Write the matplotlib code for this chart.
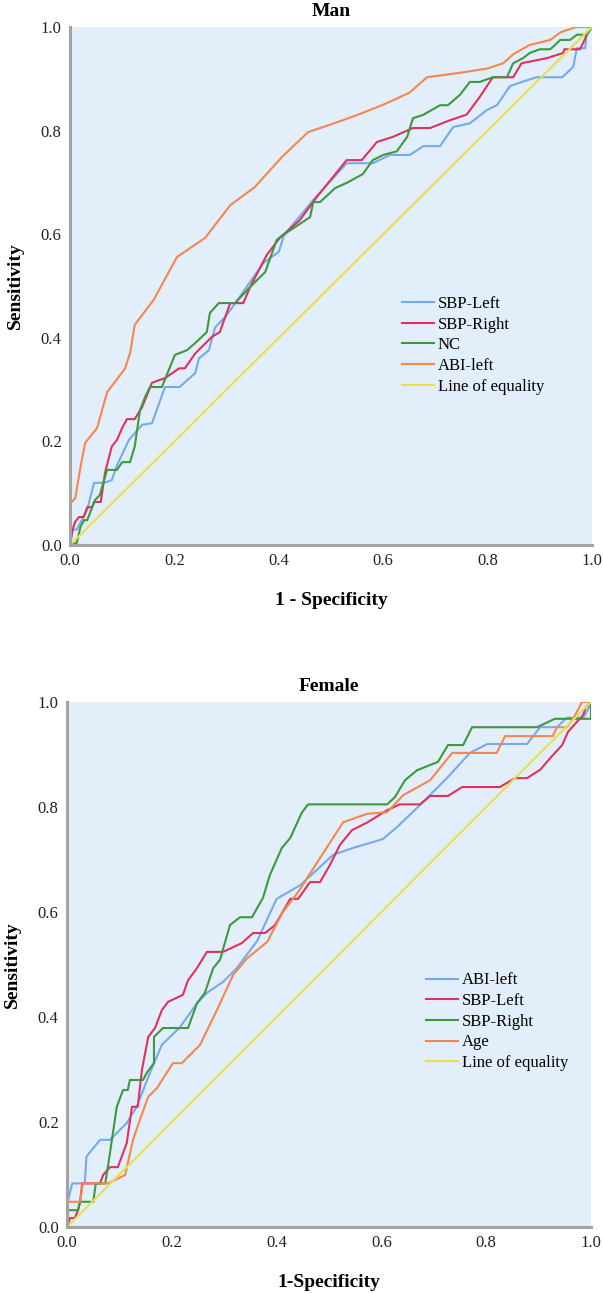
import matplotlib
matplotlib.use("Agg")
import matplotlib.pyplot as plt

# ---------------- Data: Man ----------------
man_abi_x = [0, 0, 0.01, 0.02, 0.029, 0.052, 0.071, 0.105, 0.115, 0.124, 0.16, 0.205, 0.259, 0.307,
             0.354, 0.406, 0.456, 0.5, 0.55, 0.6, 0.65, 0.684, 0.75, 0.8, 0.83, 0.85, 0.88, 0.92, 0.94, 0.97, 1.0]
man_abi_y = [0, 0.08, 0.09, 0.15, 0.197, 0.226, 0.295, 0.34, 0.37, 0.425, 0.473, 0.556, 0.593, 0.656,
             0.691, 0.749, 0.797, 0.812, 0.83, 0.85, 0.873, 0.903, 0.912, 0.92, 0.93, 0.948, 0.965, 0.975, 0.99, 1.0, 1.0]

man_sbpl_x = [0, 0.005, 0.013, 0.033, 0.046, 0.065, 0.08, 0.09, 0.113, 0.138, 0.157, 0.182, 0.21, 0.24,
              0.247, 0.266, 0.278, 0.297, 0.314, 0.37, 0.4, 0.41, 0.466, 0.53, 0.58, 0.613, 0.651, 0.677,
              0.709, 0.734, 0.766, 0.799, 0.818, 0.843, 0.875, 0.894, 0.943, 0.964, 0.971, 0.987, 0.99, 1.0]
man_sbpl_y = [0, 0.03, 0.03, 0.068, 0.12, 0.12, 0.125, 0.154, 0.203, 0.232, 0.235, 0.305, 0.305, 0.332,
              0.36, 0.376, 0.42, 0.44, 0.463, 0.544, 0.566, 0.598, 0.666, 0.737, 0.737, 0.753, 0.753, 0.77,
              0.77, 0.807, 0.814, 0.84, 0.849, 0.886, 0.897, 0.903, 0.903, 0.923, 0.959, 0.959, 0.99, 1.0]

man_sbpr_x = [0, 0.005, 0.01, 0.017, 0.026, 0.033, 0.042, 0.046, 0.059, 0.067, 0.08, 0.09, 0.1, 0.109,
              0.124, 0.138, 0.157, 0.17, 0.182, 0.209, 0.22, 0.24, 0.272, 0.287, 0.307, 0.332, 0.345,
              0.377, 0.402, 0.44, 0.473, 0.53, 0.559, 0.588, 0.619, 0.657, 0.69, 0.728, 0.76, 0.785, 0.81,
              0.849, 0.865, 0.914, 0.945, 0.947, 0.977, 0.983, 0.99, 1.0]
man_sbpr_y = [0, 0.03, 0.045, 0.054, 0.054, 0.073, 0.073, 0.083, 0.083, 0.139, 0.19, 0.203, 0.226, 0.243,
              0.243, 0.266, 0.313, 0.318, 0.322, 0.341, 0.341, 0.37, 0.402, 0.411, 0.467, 0.467, 0.498,
              0.56, 0.593, 0.627, 0.672, 0.743, 0.743, 0.778, 0.788, 0.805, 0.805, 0.82, 0.831, 0.865, 0.903,
              0.903, 0.93, 0.94, 0.95, 0.957, 0.957, 0.969, 0.985, 1.0]

man_nc_x = [0, 0.013, 0.02, 0.027, 0.033, 0.038, 0.048, 0.057, 0.071, 0.09, 0.1, 0.115, 0.124, 0.134,
            0.144, 0.153, 0.176, 0.201, 0.224, 0.24, 0.262, 0.268, 0.285, 0.316, 0.345, 0.374, 0.396,
            0.406, 0.46, 0.466, 0.479, 0.508, 0.53, 0.561, 0.58, 0.6, 0.626, 0.646, 0.657, 0.676, 0.709,
            0.724, 0.747, 0.766, 0.785, 0.81, 0.837, 0.849, 0.868, 0.881, 0.9, 0.92, 0.929, 0.939, 0.958,
            0.971, 0.99, 1.0]
man_nc_y = [0, 0.004, 0.035, 0.048, 0.048, 0.061, 0.087, 0.096, 0.145, 0.145, 0.16, 0.16, 0.19, 0.26,
            0.286, 0.305, 0.305, 0.367, 0.376, 0.39, 0.411, 0.448, 0.467, 0.467, 0.498, 0.527, 0.589,
            0.597, 0.633, 0.662, 0.662, 0.689, 0.699, 0.716, 0.743, 0.753, 0.76, 0.788, 0.824, 0.83, 0.849,
            0.849, 0.869, 0.894, 0.894, 0.903, 0.903, 0.93, 0.94, 0.95, 0.957, 0.957, 0.965, 0.975, 0.975,
            0.985, 0.985, 1.0]

# ---------------- Data: Female ----------------
fem_abi_x = [0, 0.002, 0.01, 0.034, 0.037, 0.063, 0.082, 0.114, 0.133, 0.158, 0.181, 0.216, 0.248, 0.267,
             0.298, 0.324, 0.363, 0.4, 0.445, 0.508, 0.546, 0.603, 0.63, 0.674, 0.725, 0.769, 0.802, 0.878,
             0.903, 0.935, 0.954, 0.985, 0.994, 1.0]
fem_abi_y = [0, 0.051, 0.083, 0.083, 0.134, 0.166, 0.166, 0.198, 0.229, 0.293, 0.347, 0.381, 0.426, 0.446,
             0.467, 0.493, 0.545, 0.625, 0.651, 0.709, 0.722, 0.739, 0.762, 0.804, 0.855, 0.903, 0.92, 0.92,
             0.952, 0.952, 0.97, 0.97, 0.985, 1.0]

fem_sbpl_x = [0, 0.006, 0.015, 0.021, 0.025, 0.029, 0.063, 0.069, 0.082, 0.097, 0.114, 0.124, 0.135, 0.143,
              0.155, 0.168, 0.181, 0.193, 0.221, 0.231, 0.248, 0.267, 0.298, 0.334, 0.355, 0.378, 0.397,
              0.426, 0.441, 0.464, 0.483, 0.502, 0.521, 0.544, 0.574, 0.611, 0.635, 0.674, 0.693, 0.727,
              0.754, 0.826, 0.855, 0.878, 0.903, 0.922, 0.945, 0.956, 0.973, 0.985, 0.99, 1.0]
fem_sbpl_y = [0, 0.017, 0.017, 0.032, 0.048, 0.083, 0.083, 0.099, 0.114, 0.114, 0.16, 0.229, 0.229, 0.299,
              0.362, 0.379, 0.413, 0.429, 0.442, 0.47, 0.493, 0.524, 0.524, 0.541, 0.56, 0.56, 0.575,
              0.625, 0.625, 0.657, 0.657, 0.69, 0.728, 0.756, 0.771, 0.794, 0.805, 0.805, 0.821, 0.821,
              0.838, 0.838, 0.855, 0.855, 0.871, 0.893, 0.918, 0.943, 0.962, 0.975, 0.99, 1.0]

fem_sbpr_x = [0, 0.002, 0.021, 0.025, 0.05, 0.055, 0.073, 0.082, 0.095, 0.107, 0.116, 0.12, 0.145, 0.153,
              0.166, 0.166, 0.183, 0.231, 0.248, 0.263, 0.279, 0.292, 0.311, 0.33, 0.353, 0.374, 0.387,
              0.41, 0.426, 0.448, 0.46, 0.611, 0.626, 0.645, 0.668, 0.708, 0.727, 0.756, 0.773, 0.897,
              0.931, 0.979, 1.0, 1.0]
fem_sbpr_y = [0, 0.032, 0.032, 0.048, 0.048, 0.083, 0.083, 0.141, 0.229, 0.261, 0.261, 0.28, 0.28, 0.295,
              0.312, 0.362, 0.379, 0.379, 0.426, 0.446, 0.493, 0.509, 0.575, 0.59, 0.59, 0.627, 0.67,
              0.722, 0.741, 0.789, 0.805, 0.805, 0.819, 0.851, 0.87, 0.886, 0.918, 0.918, 0.952, 0.952,
              0.968, 0.968, 0.968, 1.0]

fem_age_x = [0, 0.002, 0.025, 0.03, 0.078, 0.111, 0.126, 0.139, 0.155, 0.172, 0.202, 0.219, 0.254, 0.286,
             0.317, 0.344, 0.382, 0.412, 0.441, 0.527, 0.573, 0.611, 0.641, 0.693, 0.735, 0.82, 0.836,
             0.927, 0.935, 0.954, 0.966, 0.983, 1.0]
fem_age_y = [0, 0.048, 0.048, 0.083, 0.083, 0.099, 0.166, 0.204, 0.248, 0.265, 0.312, 0.312, 0.347, 0.413,
             0.48, 0.512, 0.543, 0.6, 0.638, 0.771, 0.787, 0.79, 0.822, 0.851, 0.903, 0.903, 0.935,
             0.935, 0.952, 0.952, 0.968, 1.0, 1.0]

equality = [0, 1]
tick_vals = [0.0, 0.2, 0.4, 0.6, 0.8, 1.0]
tick_labels = ["0.0", "0.2", "0.4", "0.6", "0.8", "1.0"]

C_BLUE = "#75AAEE"
C_RED = "#E0305C"
C_GREEN = "#3C9A3C"
C_ORANGE = "#F4874B"
C_YELLOW = "#E6E04A"
BG = "#E2EEF9"

plt.rcParams["font.family"] = ["Liberation Serif", "DejaVu Serif"]

fig = plt.figure(figsize=(6.03, 12.93), dpi=100)
W, H = 603, 1293

def make_ax(x0, x1, ytop, ybot):
    return fig.add_axes([x0 / W, 1 - ybot / H, (x1 - x0) / W, (ybot - ytop) / H])

def style(ax, title, xlabel):
    ax.set_facecolor(BG)
    ax.set_xlim(0, 1)
    ax.set_ylim(0, 1)
    for s in ["top", "right"]:
        ax.spines[s].set_visible(False)
    for s in ["left", "bottom"]:
        ax.spines[s].set_color("#A3A3A3")
        ax.spines[s].set_linewidth(2.2)
    ax.set_xticks(tick_vals)
    ax.set_xticklabels(tick_labels)
    ax.set_yticks(tick_vals)
    ax.set_yticklabels(tick_labels)
    ax.tick_params(length=0, labelsize=12, pad=6, colors="#222222")
    ax.set_title(title, fontsize=14, fontweight="bold", pad=8)
    ax.set_xlabel(xlabel, fontsize=14, fontweight="bold", labelpad=16)
    ax.set_ylabel("Sensitivity", fontsize=14, fontweight="bold", labelpad=12)

lw = 1.5

# ---- Man ----
ax1 = make_ax(70, 592, 27, 545)
style(ax1, "Man", "1 - Specificity")
ax1.plot(man_sbpl_x, man_sbpl_y, color=C_BLUE, lw=lw, label="SBP-Left")
ax1.plot(man_sbpr_x, man_sbpr_y, color=C_RED, lw=lw, label="SBP-Right")
ax1.plot(man_nc_x, man_nc_y, color=C_GREEN, lw=lw, label="NC")
ax1.plot(man_abi_x, man_abi_y, color=C_ORANGE, lw=lw, label="ABI-left")
ax1.plot(equality, equality, color=C_YELLOW, lw=lw, label="Line of equality")
ax1.legend(loc="upper left", bbox_to_anchor=(0.636, 0.481), frameon=False, fontsize=12,
           handlelength=1.9, handletextpad=0.25, labelspacing=0.28, borderpad=0, borderaxespad=0)

# ---- Female ----
ax2 = make_ax(67, 591, 702, 1227)
style(ax2, "Female", "1-Specificity")
ax2.plot(fem_abi_x, fem_abi_y, color=C_BLUE, lw=lw, label="ABI-left")
ax2.plot(fem_sbpl_x, fem_sbpl_y, color=C_RED, lw=lw, label="SBP-Left")
ax2.plot(fem_sbpr_x, fem_sbpr_y, color=C_GREEN, lw=lw, label="SBP-Right")
ax2.plot(fem_age_x, fem_age_y, color=C_ORANGE, lw=lw, label="Age")
ax2.plot(equality, equality, color=C_YELLOW, lw=lw, label="Line of equality")
ax2.legend(loc="upper left", bbox_to_anchor=(0.685, 0.485), frameon=False, fontsize=12,
           handlelength=1.9, handletextpad=0.25, labelspacing=0.28, borderpad=0, borderaxespad=0)

fig.savefig("out.png", dpi=100)
